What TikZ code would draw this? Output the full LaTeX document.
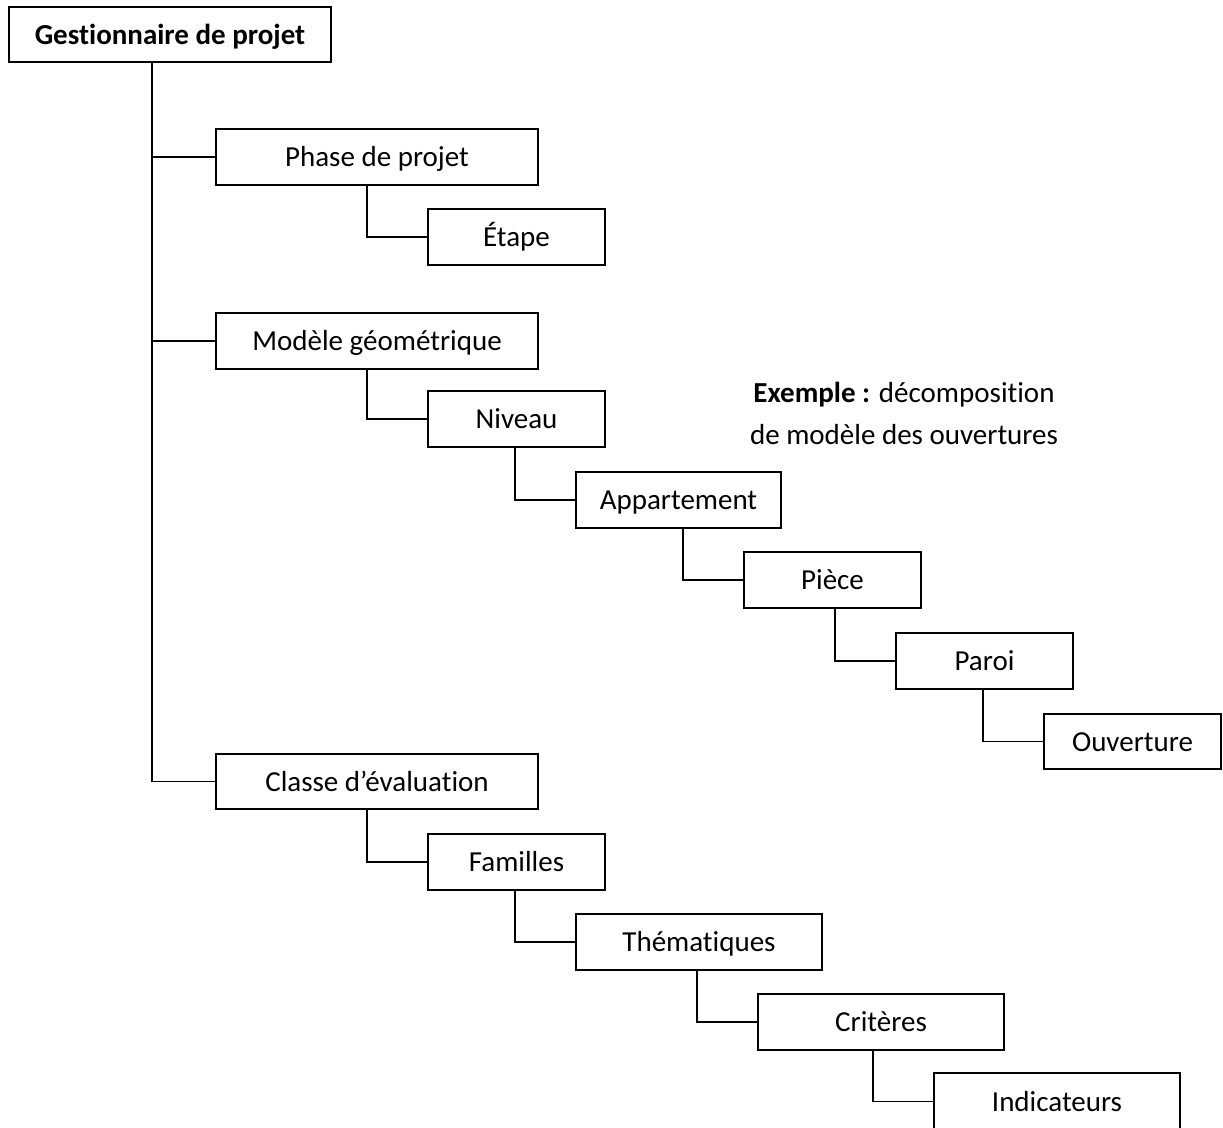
\documentclass[tikz,border=0pt]{standalone}
\usepackage{fontspec}
\setmainfont[RawFeature={-liga;-clig;-calt;-dlig;-rlig}]{Carlito}
% break the t+i ligature
\newcommand{\ti}{t\kern0pt i}
\begin{document}
\begin{tikzpicture}[x=1pt,y=-1pt,
  every node/.style={font=\fontsize{29}{42}\selectfont},
  link/.style={line width=1.8pt, line join=miter},
  box/.style={draw, line width=1.8pt, inner sep=0pt, anchor=center,
    text depth=0pt, text height=0pt}]
\useasboundingbox (0,0) rectangle (1223,1127);
\clip (0,0) rectangle (1223,1127);
% box from corner (x1,y1) to corner (x2,y2), in pixels from the top left
\newcommand{\treebox}[6]{%
  \node[box, minimum width={#4-#2}, minimum height={#5-#3}] (#1)
    at ({(#2+#4)/2},{(#3+#5)/2}) {\raisebox{-0.33em}{#6}};}
\treebox{gest}{9}{7}{331}{62}{\textbf{Ges\ti onnaire de projet}}
\treebox{phase}{216}{129}{538}{185}{Phase de projet}
\treebox{etape}{428}{209}{605}{265}{Étape}
\treebox{modele}{216}{313}{538}{369}{Modèle géométrique}
\treebox{niveau}{428}{391}{605}{447}{Niveau}
\treebox{appart}{576}{472}{781}{528}{Appartement}
\treebox{piece}{744}{552}{921}{608}{Pièce}
\treebox{paroi}{896}{633}{1073}{689}{Paroi}
\treebox{ouvert}{1044}{714}{1221}{769}{Ouverture}
\treebox{classe}{216}{754}{538}{809}{Classe d’évalua\ti on}
\treebox{familles}{428}{834}{605}{890}{Familles}
\treebox{themat}{576}{914}{822}{970}{Théma\ti ques}
\treebox{criteres}{758}{994}{1004}{1050}{Critères}
\treebox{indic}{934}{1073}{1180}{1130}{Indicateurs}

\node[align=center] (note) at (904,413)
  {\textbf{Exemple :} décomposi\ti on\\de modèle des ouvertures};

% main trunk
\coordinate (trunk) at ([xshift=144pt]gest.south west);
\draw[link] (trunk) |- (classe.west);
\draw[link] (trunk |- phase.west) -- (phase.west);
\draw[link] (trunk |- modele.west) -- (modele.west);

% elbow connectors: parent bottom edge to child left side
\newcommand{\elbow}[2]{%
  \draw[link] (#2.west) -- ++(-60,0) coordinate (k#2) -- (k#2 |- #1.south);}
\elbow{phase}{etape}
\elbow{modele}{niveau}
\elbow{niveau}{appart}
\elbow{appart}{piece}
\elbow{piece}{paroi}
\elbow{paroi}{ouvert}
\elbow{classe}{familles}
\elbow{familles}{themat}
\elbow{themat}{criteres}
\elbow{criteres}{indic}
\end{tikzpicture}
\end{document}
